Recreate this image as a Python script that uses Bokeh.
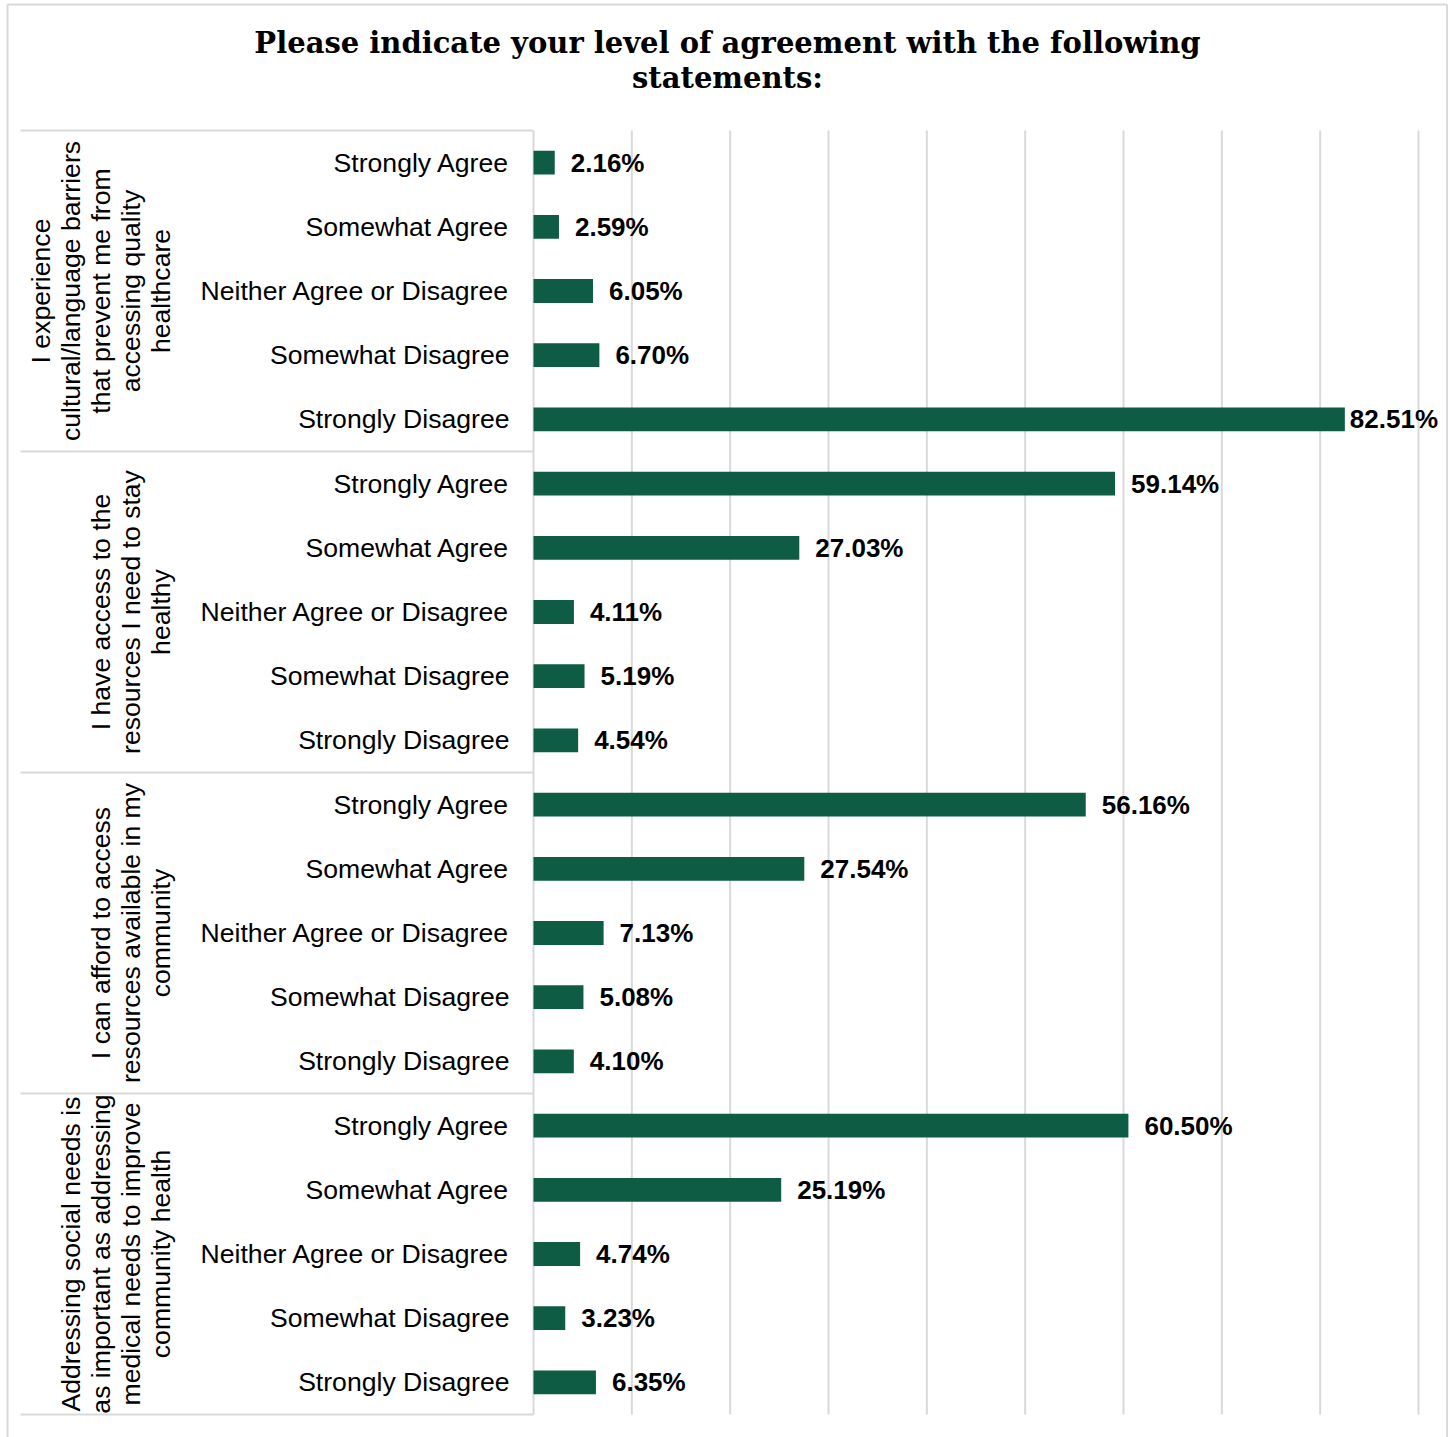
import math
from bokeh.plotting import figure
from bokeh.models import ColumnDataSource, Range1d
from bokeh.core.properties import value
from bokeh.embed import file_html
from bokeh.resources import INLINE

title_lines = ["Please indicate your level of agreement with the following",
               "statements:"]
statements = [
    "I experience\ncultural/language barriers\nthat prevent me from\naccessing quality\nhealthcare",
    "I have access to the\nresources I need to stay\nhealthy",
    "I can afford to access\nresources available in my\ncommunity",
    "Addressing social needs is\nas important as addressing\nmedical needs to improve\ncommunity health",
]
responses = ["Strongly Agree", "Somewhat Agree", "Neither Agree or Disagree",
             "Somewhat Disagree", "Strongly Disagree"]
pct_barriers = [2.16, 2.59, 6.05, 6.70, 82.51]
pct_access = [59.14, 27.03, 4.11, 5.19, 4.54]
pct_afford = [56.16, 27.54, 7.13, 5.08, 4.10]
pct_social = [60.50, 25.19, 4.74, 3.23, 6.35]
x_ticks = [0, 10, 20, 30, 40, 50, 60, 70, 80, 90]

BAR = "#0F5C45"
GRID = "#d9d9d9"
FONT = "Liberation Sans"

# ---- layout geometry (canvas pixels) ----
W, H = 1450, 1437
X0_PX, PX_PER_PCT = 533.0, 885.0 / 90.0      # x of 0 %, px per %
Y0_PX, PX_PER_ROW = 130.0, 1284.0 / 20.0     # top of first row, px per row


def dx(px):
    return (px - X0_PX) / PX_PER_PCT


def dy(py):
    return (py - Y0_PX) / PX_PER_ROW


groups = [pct_barriers, pct_access, pct_afford, pct_social]
vals, labels, cats, ys, offs = [], [], [], [], []
row = 0
for g in groups:
    for r, v in zip(responses, g):
        vals.append(v)
        labels.append(f"{v:.2f}%")
        cats.append(r)
        ys.append(row + 0.5)
        offs.append(5 if v > 80 else 16)
        row += 1
n_rows = row
src = ColumnDataSource(dict(y=ys, val=vals, lab=labels, cat=cats, off=offs))

p = figure(width=W, height=H,
           x_range=Range1d(dx(4), dx(W)), y_range=Range1d(dy(H), dy(0)),
           output_backend="svg", toolbar_location=None,
           x_axis_location=None, y_axis_location=None, title=None,
           min_border_left=4, min_border_right=0, min_border_top=0,
           min_border_bottom=0)
p.outline_line_color = None
p.background_fill_color = "white"
p.border_fill_color = "white"
p.xgrid.visible = False
p.ygrid.visible = False

# outer chart border (left, top, right)
bl, br, bt = dx(7), dx(1446.5), dy(4)
p.multi_line(xs=[[bl, bl], [bl, br], [br, br]],
             ys=[[dy(H + 5), bt], [bt, bt], [bt, dy(H + 5)]],
             line_color=GRID, line_width=2)

# vertical gridlines at ticks
p.segment(x0=x_ticks, x1=x_ticks, y0=[0] * len(x_ticks), y1=[n_rows] * len(x_ticks),
          line_color=GRID, line_width=2)

# separators in the category panel
sep_y = [0, 5, 10, 15, 20]
p.segment(x0=[dx(20)] * len(sep_y), x1=[0] * len(sep_y), y0=sep_y, y1=sep_y,
          line_color=GRID, line_width=2)

p.hbar(y="y", left=0, right="val", height=0.37, source=src,
       fill_color=BAR, line_color=None)

p.text(x="val", y="y", text="lab", x_offset="off", source=src,
       text_font=value(FONT), text_font_style="bold", text_font_size="26px",
       text_baseline="middle", text_align="left", text_color="black")

p.text(x=0, y="y", text="cat", x_offset=-24, source=src,
       text_font=value(FONT), text_font_size="26.6px",
       text_baseline="middle", text_align="right", text_color="black")

p.text(x=[dx(175)] * 4, y=[5 * k + 2.5 for k in range(4)], text=statements,
       angle=math.pi / 2, text_font=value(FONT), text_font_size="26.6px",
       text_align="center", text_baseline="bottom", text_line_height=1.0,
       text_color="black")

p.text(x=[dx(727)] * 2, y=[dy(42), dy(77)], text=title_lines,
       text_font=value("DejaVu Serif"), text_font_style="bold",
       text_font_size="29px", text_align="center", text_baseline="middle",
       text_color="black")

open("out.html", "w").write(file_html(p, INLINE))
